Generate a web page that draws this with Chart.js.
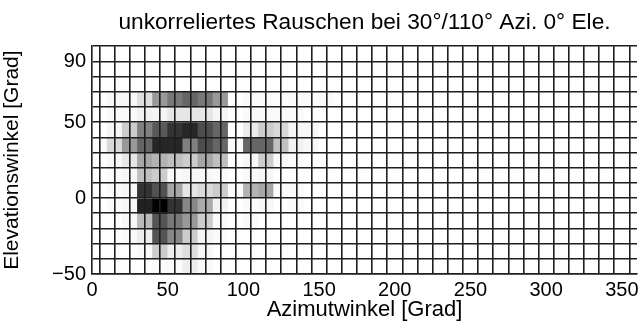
<!DOCTYPE html>
<html>
<head>
<meta charset="utf-8">
<script src="https://cdn.jsdelivr.net/npm/chart.js@4"></script>
<style>
  html, body { margin: 0; padding: 0; background: #fff; }
  #wrap { width: 641px; height: 332px; }
</style>
</head>
<body>
<div id="wrap"><canvas id="heatmap"></canvas></div>
<script>
// azimuth cells are 10 degrees wide, centred on these values
const azimuths = [5, 15, 25, 35, 45, 55, 65, 75, 85, 95, 105, 115, 125, 135, 145, 155, 165, 175,
  185, 195, 205, 215, 225, 235, 245, 255, 265, 275, 285, 295, 305, 315, 325, 335, 345, 355];

// lower edge of each elevation row, top row first
const elevations = [90, 80, 70, 60, 50, 40, 30, 20, 10, 0, -10, -20, -30, -40, -50];

// normalised level per cell (0 = white, 1 = black), one row per elevation
const levels = [
  [0, 0, 0, 0, 0, 0, 0, 0, 0, 0, 0, 0, 0, 0, 0, 0, 0, 0, 0, 0, 0, 0, 0, 0, 0, 0, 0, 0, 0, 0, 0, 0, 0, 0, 0, 0],
  [0, 0, 0, 0, 0, 0, 0, 0, 0, 0, 0, 0, 0, 0, 0, 0, 0, 0, 0, 0, 0, 0, 0, 0, 0, 0, 0, 0, 0, 0, 0, 0, 0, 0, 0, 0],
  [0, 0, 0, 0, 0, 0, 0, 0, 0, 0, 0, 0, 0, 0, 0, 0, 0, 0, 0, 0, 0, 0, 0, 0, 0, 0, 0, 0, 0, 0, 0, 0, 0, 0, 0, 0],
  [0, .03, .03, .13, .4, .53, .6, .53, .4, 0, .02, .02, .01, .02, .02, .02, 0, 0, 0, 0, 0, 0, 0, 0, 0, 0, 0, 0, 0, 0, 0, 0, 0, 0, 0, 0],
  [0, .02, .02, .05, .04, .1, .1, .1, .04, 0, .02, .02, .02, .02, 0, 0, 0, 0, 0, 0, 0, 0, 0, 0, 0, 0, 0, 0, 0, 0, 0, 0, 0, 0, 0, 0],
  [0, .04, .2, .5, .65, .8, .85, .7, .6, 0, .08, .2, .15, .03, .03, 0, 0, 0, 0, 0, 0, 0, 0, 0, 0, 0, 0, 0, 0, 0, 0, 0, 0, 0, 0, 0],
  [.02, .15, .4, .6, .85, .85, .5, .7, .6, .02, .6, .6, .25, .05, .03, 0, 0, 0, 0, 0, 0, 0, 0, 0, 0, 0, 0, 0, 0, 0, 0, 0, 0, 0, 0, 0],
  [0, .03, .1, .35, .3, .25, .2, .35, .25, 0, .03, .2, .03, .02, 0, 0, 0, 0, 0, 0, 0, 0, 0, 0, 0, 0, 0, 0, 0, 0, 0, 0, 0, 0, 0, 0],
  [0, .02, .03, .25, .2, .02, .03, .03, .02, 0, .02, .03, 0, 0, 0, 0, 0, 0, 0, 0, 0, 0, 0, 0, 0, 0, 0, 0, 0, 0, 0, 0, 0, 0, 0, 0],
  [0, .02, .03, .8, .68, .35, .1, .15, .2, .02, .3, .35, .02, .02, 0, 0, 0, 0, 0, 0, 0, 0, 0, 0, 0, 0, 0, 0, 0, 0, 0, 0, 0, 0, 0, 0],
  [0, .02, .03, .87, 1, .8, .47, .33, .05, 0, .02, .03, 0, .02, 0, 0, 0, 0, 0, 0, 0, 0, 0, 0, 0, 0, 0, 0, 0, 0, 0, 0, 0, 0, 0, 0],
  [0, 0, .03, .27, .67, .53, .4, .2, .02, 0, .02, 0, 0, 0, 0, 0, 0, 0, 0, 0, 0, 0, 0, 0, 0, 0, 0, 0, 0, 0, 0, 0, 0, 0, 0, 0],
  [0, 0, .02, .07, .67, .47, .2, .04, .02, 0, 0, 0, 0, 0, 0, 0, 0, 0, 0, 0, 0, 0, 0, 0, 0, 0, 0, 0, 0, 0, 0, 0, 0, 0, 0, 0],
  [0, 0, 0, .02, .2, .07, .13, .03, 0, 0, 0, 0, 0, 0, 0, 0, 0, 0, 0, 0, 0, 0, 0, 0, 0, 0, 0, 0, 0, 0, 0, 0, 0, 0, 0, 0],
  [0, 0, 0, 0, .02, .02, .07, .02, 0, 0, 0, 0, 0, 0, 0, 0, 0, 0, 0, 0, 0, 0, 0, 0, 0, 0, 0, 0, 0, 0, 0, 0, 0, 0, 0, 0]
];

const xTickLabels = [0, 50, 100, 150, 200, 250, 300, 350];
const yTickLabels = [-50, 0, 50, 90];

const CELL = 10;
const FONT = "'Liberation Sans', Arial, sans-serif";

function grey(v) {
  const g = Math.round(255 * (1 - v));
  return `rgb(${g},${g},${g})`;
}

// one floating-bar dataset per elevation row; 'flex' makes each bar span
// the gap to its neighbours, i.e. one full cell
const datasets = elevations.map((lo, r) => ({
  data: azimuths.map((az) => ({ x: az, y: [lo, lo + CELL] })),
  backgroundColor: levels[r].map(grey),
  borderWidth: 0,
  barThickness: "flex",
  barPercentage: 1,
  categoryPercentage: 1,
}));

function fmt(v) {
  return v < 0 ? "\u2212" + Math.abs(v) : String(v);
}

// cell edges are the axis grid, drawn on top of the bars
const gridLines = { color: "#1e1e1e", lineWidth: 1.6, drawTicks: false, z: 1 };
const frame = { color: "#1e1e1e", width: 1.6, z: 1 };

new Chart(document.getElementById("heatmap"), {
  type: "bar",
  data: { datasets },
  options: {
    responsive: true,
    maintainAspectRatio: false,
    animation: false,
    layout: { padding: { left: 0, right: 4, top: 0, bottom: 0 } },
    plugins: {
      legend: { display: false },
      tooltip: { enabled: false },
      title: {
        display: true,
        fullSize: false,
        text: "unkorreliertes Rauschen bei 30°/110° Azi. 0° Ele.",
        color: "#000",
        font: { family: FONT, size: 22.7, weight: "normal" },
        padding: { top: 9, bottom: 10 },
        align: "center",
      },
    },
    scales: {
      x: {
        type: "linear",
        min: 0,
        max: 360,
        offset: false,
        // all rows share one slot per azimuth (no side-by-side grouping)
        stacked: true,
        ticks: {
          stepSize: 10,
          autoSkip: false,
          maxRotation: 0,
          color: "#000",
          padding: 4,
          font: { family: FONT, size: 20 },
          callback: (v) => (xTickLabels.includes(v) ? fmt(v) : ""),
        },
        grid: gridLines,
        border: frame,
        title: {
          display: true,
          text: "Azimutwinkel [Grad]",
          color: "#000",
          font: { family: FONT, size: 22 },
          padding: { top: 0, bottom: 9 },
        },
        afterFit: (scale) => { scale.height = 58; },
      },
      y: {
        type: "linear",
        min: -50,
        max: 100,
        stacked: false,
        ticks: {
          stepSize: 10,
          autoSkip: false,
          color: "#000",
          padding: 6,
          font: { family: FONT, size: 20 },
          callback: (v) => (yTickLabels.includes(v) ? fmt(v) : ""),
        },
        grid: gridLines,
        border: frame,
        title: {
          display: true,
          text: "Elevationswinkel [Grad]",
          color: "#000",
          font: { family: FONT, size: 21 },
          padding: { top: 0, bottom: 2 },
        },
        afterFit: (scale) => { scale.width = 92; },
      },
    },
  },
});
</script>
</body>
</html>
